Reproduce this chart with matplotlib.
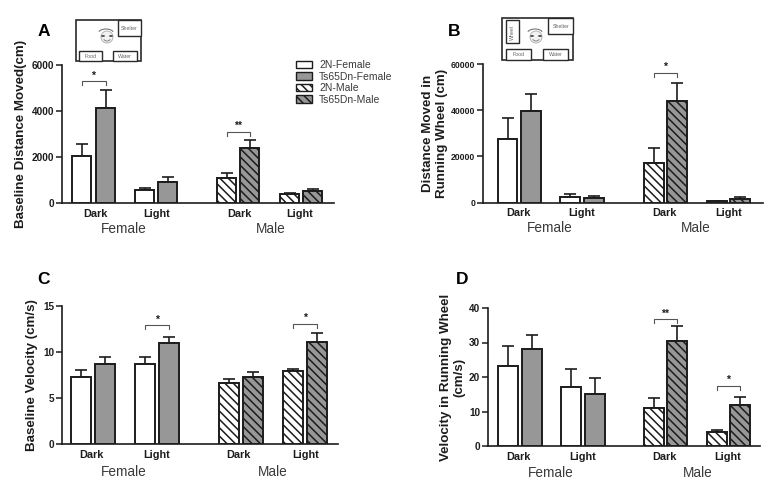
import matplotlib
matplotlib.use("Agg")
import matplotlib.pyplot as plt
from matplotlib.patches import Rectangle, Ellipse, Arc, Patch

plt.rcParams['font.family'] = ['Liberation Sans', 'DejaVu Sans']
plt.rcParams['hatch.linewidth'] = 1.1

W, H = 778, 493
INK = '#1c1c1c'
SOFT = '#3a3a3a'
GREY = '#979797'

groups = ['Female', 'Male']
conditions = ['Dark', 'Light', 'Dark', 'Light']
series_names = ['2N-Female', 'Ts65Dn-Female', '2N-Male', 'Ts65Dn-Male']

a_means = [2050, 4130, 550, 920, 1100, 2370, 390, 520]
a_upper = [2550, 4930, 650, 1130, 1300, 2720, 420, 600]
b_means = [27700, 39500, 2500, 1900, 17000, 43800, 600, 1700]
b_upper = [36700, 47200, 3600, 2900, 23700, 51800, 800, 2400]
c_means = [7.3, 8.7, 8.7, 11.0, 6.6, 7.25, 7.9, 11.1]
c_upper = [8.0, 9.5, 9.45, 11.65, 7.1, 7.85, 8.2, 12.1]
d_means = [23.2, 28.0, 17.2, 15.2, 11.0, 30.3, 4.2, 11.9]
d_upper = [28.9, 32.2, 22.3, 19.8, 14.0, 34.7, 4.7, 14.2]

panels = [
    dict(letter='A', means=a_means, upper=a_upper, ymax=6000, ticks=[0, 2000, 4000, 6000],
         ylabel='Baseline Distance Moved(cm)', rect=(62, 334, 65, 203),
         pos=[19.5, 43.5, 82.5, 105.5, 164.5, 187.5, 227.5, 250.5],
         cond_x=[33, 95, 177, 238], tick_size=7.2,
         sig=[(0, 1, 5300, '*'), (4, 5, 3090, '**')],
         letter_xy=(44, 32), ylab_x=21, group_x=(62, 209), group_y=229),
    dict(letter='B', means=b_means, upper=b_upper, ymax=60000, ticks=[0, 20000, 40000, 60000],
         ylabel='Distance Moved in\nRunning Wheel (cm)', rect=(483, 763, 64, 202.5),
         pos=[24.5, 48, 87, 111, 171, 194, 234, 257],
         cond_x=[35, 99, 181, 246], tick_size=6.2,
         sig=[(4, 5, 56100, '*')],
         letter_xy=(454, 32), ylab_x=435, group_x=(67, 213), group_y=228),
    dict(letter='C', means=c_means, upper=c_upper, ymax=15, ticks=[0, 5, 10, 15],
         ylabel='Baseline Velocity (cm/s)', rect=(62, 338, 306, 444),
         pos=[19, 43, 83, 107, 167, 191, 231, 255],
         cond_x=[29, 95, 176, 244], tick_size=7.2,
         sig=[(2, 3, 12.9, '*'), (6, 7, 13.05, '*')],
         letter_xy=(44, 279), ylab_x=32, group_x=(62, 211), group_y=472),
    dict(letter='D', means=d_means, upper=d_upper, ymax=40, ticks=[0, 10, 20, 30, 40],
         ylabel='Velocity in Running Wheel\n(cm/s)', rect=(488, 760, 308, 446),
         pos=[20, 44, 83, 107, 166, 189, 229, 252],
         cond_x=[30, 95, 176, 240], tick_size=7.2,
         sig=[(4, 5, 36.8, '**'), (6, 7, 17.4, '*')],
         letter_xy=(462, 279), ylab_x=453, group_x=(63, 210), group_y=473),
]

HATCH = '\\' * 4
styles = [
    dict(facecolor='white', hatch=None),
    dict(facecolor=GREY, hatch=None),
    dict(facecolor='white', hatch=HATCH),
    dict(facecolor=GREY, hatch=HATCH),
]
series_of_bar = [0, 1, 0, 1, 2, 3, 2, 3]
BAR_W = 19.5

fig = plt.figure(figsize=(W / 100, H / 100), dpi=100, facecolor='white')


def px_axes(x0, x1, ytop, ybot):
    return fig.add_axes([x0 / W, 1 - ybot / H, (x1 - x0) / W, (ybot - ytop) / H])


for p in panels:
    x0, x1, yt, yb = p['rect']
    ax = px_axes(x0, x1, yt, yb)
    ax.set_xlim(0, x1 - x0)
    ax.set_ylim(0, p['ymax'])
    ax.patch.set_alpha(0)
    for i, (x, m, u) in enumerate(zip(p['pos'], p['means'], p['upper'])):
        st = styles[series_of_bar[i]]
        ax.bar(x, m, width=BAR_W, facecolor=st['facecolor'], hatch=st['hatch'],
               edgecolor=INK, linewidth=1.4, zorder=3)
        ax.errorbar(x, m, yerr=[[0], [u - m]], color=INK, elinewidth=1.2,
                    capsize=4, capthick=1.2, zorder=2, fmt='none')
    for s in ['top', 'right']:
        ax.spines[s].set_visible(False)
    for s in ['left', 'bottom']:
        ax.spines[s].set_linewidth(1.2)
        ax.spines[s].set_color(INK)
    ax.set_yticks(p['ticks'])
    ax.tick_params(axis='y', length=4, width=1.1, pad=1.5, labelsize=p['tick_size'], colors=INK)
    for t in ax.get_yticklabels():
        t.set_fontweight('bold')
    ax.set_xticks(p['cond_x'])
    ax.set_xticklabels(conditions, fontsize=7.8, fontweight='bold', color=INK)
    ax.tick_params(axis='x', length=0, pad=4)

    # significance brackets
    drop = p['ymax'] * 0.03
    for i, j, y, mark in p['sig']:
        ax.plot([p['pos'][i], p['pos'][i], p['pos'][j], p['pos'][j]],
                [y - drop, y, y, y - drop], color='#555555', lw=0.8, clip_on=False)
        ax.text((p['pos'][i] + p['pos'][j]) / 2, y + p['ymax'] * 0.005, mark,
                ha='center', va='bottom', fontsize=7.5, fontweight='bold', color=INK)

    # group captions
    for g, gx in zip(groups, p['group_x']):
        fig.text((x0 + gx) / W, 1 - p['group_y'] / H, g, ha='center', va='center',
                 fontsize=9.8, color=SOFT)
    # panel letter and y label
    fig.text(p['letter_xy'][0] / W, 1 - p['letter_xy'][1] / H, p['letter'], ha='center',
             va='center', fontsize=12.5, fontweight='bold', color='black')
    fig.text(p['ylab_x'] / W, 1 - ((yt + yb) / 2) / H, p['ylabel'],
             rotation=90, ha='center', va='center', fontsize=9.6, fontweight='bold',
             color=INK, linespacing=1.15, multialignment='center')

# overlay in pixel coordinates for the apparatus sketches
ov = fig.add_axes([0, 0, 1, 1], zorder=10)
ov.set_xlim(0, W)
ov.set_ylim(H, 0)
ov.axis('off')


def box(x0, y0, x1, y1, lw=1.0, ec='#2a2a2a'):
    ov.add_patch(Rectangle((x0, y0), x1 - x0, y1 - y0, facecolor='white', edgecolor=ec, lw=lw))


def label(x, y, s, rot=0):
    ov.text(x, y, s, fontsize=3.8, color='#666666', ha='center', va='center', rotation=rot)


def mouse(cx, cy):
    ov.add_patch(Ellipse((cx, cy + 2), 12, 12, facecolor='#f2f2f2', edgecolor='#aaaaaa', lw=0.6))
    ov.add_patch(Arc((cx - 1, cy - 2), 15, 8, theta1=190, theta2=350, edgecolor='#666666', lw=0.7))
    ov.add_patch(Ellipse((cx - 4, cy + 1), 4, 2, facecolor='#555555', edgecolor='none'))
    ov.add_patch(Ellipse((cx + 4, cy + 1), 4, 2, facecolor='#555555', edgecolor='none'))
    ov.add_patch(Arc((cx, cy + 3), 7, 6, theta1=20, theta2=160, edgecolor='#777777', lw=0.6))


box(76, 20, 141, 61, lw=1.2)
box(118, 20, 141, 36)
box(79, 51, 102, 61)
box(113, 51, 137, 61)
label(129.5, 28, 'Shelter')
label(90.5, 56, 'Food')
label(125, 56, 'Water')
mouse(107, 35)

box(502, 18, 573, 60, lw=1.2)
box(548, 18, 573, 34)
box(506, 20, 519, 43)
box(506, 49, 531, 60)
box(543, 49, 568, 60)
label(561, 26, 'Shelter')
label(512.5, 32, 'Wheel', rot=90)
label(518.5, 55, 'Food')
label(556, 55, 'Water')
mouse(536, 35)

handles = [Patch(facecolor=st['facecolor'], edgecolor=INK, hatch=st['hatch'], lw=1.0) for st in styles]
fig.legend(handles, series_names, loc='upper left', bbox_to_anchor=(296 / W, 1 - 60 / H),
           frameon=False, fontsize=7.5, handlelength=1.55, handleheight=0.7, handletextpad=0.67,
           labelspacing=0.15, borderpad=0, borderaxespad=0, labelcolor=SOFT)

fig.savefig('out.png', dpi=100)
